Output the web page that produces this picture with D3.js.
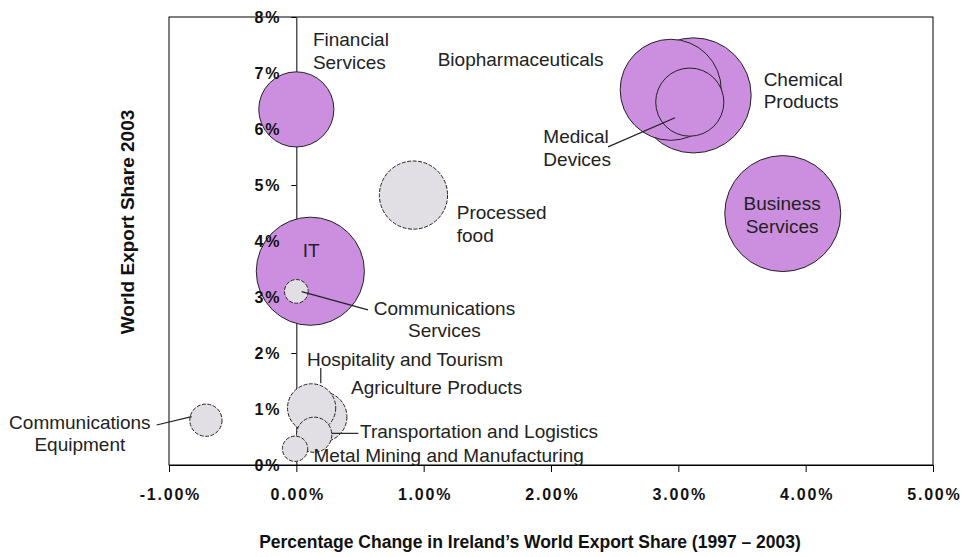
<!DOCTYPE html>
<html>
<head>
<meta charset="utf-8">
<script src="https://cdn.jsdelivr.net/npm/d3@7"></script>
<style>
  body { margin: 0; background: #fff; }
  svg { display: block; font-family: Arial, "Liberation Sans", sans-serif; }
</style>
</head>
<body>
<div id="chart"></div>
<script>
// Sectors, drawn in this order (back to front)
var sectors = ["Chemical Products", "Biopharmaceuticals", "Medical Devices", "Business Services",
               "Financial Services", "Processed food", "IT", "Communications Services",
               "Communications Equipment", "Agriculture Products", "Hospitality and Tourism",
               "Transportation and Logistics", "Metal Mining and Manufacturing"];
// % change in Ireland's world export share 1997-2003
var shareChange = [3.12, 2.94, 3.09, 3.82, 0.00, 0.92, 0.11, 0.00, -0.71, 0.20, 0.12, 0.14, -0.01];
// world export share 2003 (%)
var exportShare = [6.60, 6.70, 6.48, 4.49, 6.35, 4.82, 3.46, 3.10, 0.80, 0.86, 1.02, 0.54, 0.29];
// relative bubble size
var bubbleSize = [33.1, 25.5, 11.6, 33.6, 14.1, 11.6, 29.2, 1.4, 2.6, 6.3, 5.8, 3.1, 1.6];
// high-growth group (purple) or not (grey)
var highGrowth = [1, 1, 1, 1, 1, 0, 1, 0, 0, 0, 0, 0, 0];

var xTicks = [-1, 0, 1, 2, 3, 4, 5];
var yTicks = [0, 1, 2, 3, 4, 5, 6, 7, 8];

// label text, placed in data units
var labels = [
  {lines: ["Financial", "Services"], x: 0.13, y: 7.48, anchor: "start"},
  {lines: ["Biopharmaceuticals"], x: 1.11, y: 7.13, anchor: "start"},
  {lines: ["Medical", "Devices"], x: 1.94, y: 5.75, anchor: "start"},
  {lines: ["Chemical", "Products"], x: 3.67, y: 6.77, anchor: "start"},
  {lines: ["Business", "Services"], x: 3.815, y: 4.55, anchor: "middle"},
  {lines: ["Processed", "food"], x: 1.26, y: 4.39, anchor: "start"},
  {lines: ["IT"], x: 0.05, y: 3.71, anchor: "start"},
  {lines: ["Communications", "Services"], x: 1.163, y: 2.68, anchor: "middle"},
  {lines: ["Hospitality and Tourism"], x: 0.084, y: 1.77, anchor: "start"},
  {lines: ["Agriculture Products"], x: 0.43, y: 1.27, anchor: "start"},
  {lines: ["Transportation and Logistics"], x: 0.50, y: 0.48, anchor: "start"},
  {lines: ["Metal Mining and Manufacturing"], x: 0.134, y: 0.06, anchor: "start"},
  {lines: ["Communications", "Equipment"], x: -1.70, y: 0.645, anchor: "middle"}
];
// leader lines [x1, y1, x2, y2] in data units
var leaders = [
  [2.448, 5.68, 2.974, 6.20],
  [0.042, 3.095, 0.563, 2.77],
  [-1.097, 0.714, -0.822, 0.863],
  [0.192, 1.73, 0.192, 1.46],
  [0.278, 0.565, 0.487, 0.565]
];

var width = 962, height = 557;
var svg = d3.select("#chart").append("svg")
    .attr("width", width)
    .attr("height", height);

var x = d3.scaleLinear().domain([-1, 5]).range([169, 933]);
var y = d3.scaleLinear().domain([0, 8]).range([465, 17]);
var r = d3.scaleSqrt().domain([0, d3.max(bubbleSize)]).range([0, 58]);

var yAxisFn = d3.axisLeft(y).tickValues(yTicks).tickSize(5).tickSizeOuter(0).tickPadding(10)
                .tickFormat(function(d) { return d + "%"; });
var xAxisFn = d3.axisBottom(x).tickValues(xTicks).tickSize(7).tickSizeOuter(0).tickPadding(17)
                .tickFormat(function(d) { return d.toFixed(2) + "%"; });

// plot frame
svg.append("rect")
   .attr("x", x(-1)).attr("y", y(8))
   .attr("width", x(5) - x(-1)).attr("height", y(0) - y(8))
   .attr("fill", "none").attr("stroke", "#000");

// axis lines (behind bubbles)
var yLines = svg.append("g")
   .attr("transform", "translate(" + x(0) + ",0)")
   .call(yAxisFn);
var xLines = svg.append("g")
   .attr("transform", "translate(0," + y(0) + ")")
   .call(xAxisFn);
yLines.selectAll("text").remove();
xLines.selectAll("text").remove();
svg.selectAll(".domain, .tick line").attr("stroke", "#000");

// bubbles
var idx = d3.range(sectors.length);
svg.append("g").selectAll("circle")
   .data(idx)
   .enter().append("circle")
   .attr("cx", function(i) { return x(shareChange[i]); })
   .attr("cy", function(i) { return y(exportShare[i]); })
   .attr("r", function(i) { return r(bubbleSize[i]); })
   .attr("fill", function(i) { return highGrowth[i] ? "#cc8fe0" : "#e1dfe4"; })
   .attr("stroke", "#222")
   .attr("stroke-width", 1)
   .attr("stroke-dasharray", function(i) { return highGrowth[i] ? null : "4,1.5"; });

// tick labels on top of bubbles
var yText = svg.append("g")
   .attr("transform", "translate(" + x(0) + ",0)")
   .call(yAxisFn);
var xText = svg.append("g")
   .attr("transform", "translate(0," + y(0) + ")")
   .call(xAxisFn);
yText.select(".domain").remove();
xText.select(".domain").remove();
yText.selectAll(".tick line").remove();
xText.selectAll(".tick line").remove();

svg.selectAll(".tick text")
   .attr("font-family", "Arial, 'Liberation Sans', sans-serif")
   .attr("font-size", 16)
   .attr("font-weight", "bold")
   .attr("letter-spacing", 1.8)
   .attr("fill", "#111");
xText.selectAll(".tick text").attr("dx", 0.9);

// leader lines
svg.append("g").selectAll("line")
   .data(leaders)
   .enter().append("line")
   .attr("x1", function(d) { return x(d[0]); })
   .attr("y1", function(d) { return y(d[1]); })
   .attr("x2", function(d) { return x(d[2]); })
   .attr("y2", function(d) { return y(d[3]); })
   .attr("stroke", "#222")
   .attr("stroke-width", 1.2);

// sector labels
var lab = svg.append("g").selectAll("text")
   .data(labels)
   .enter().append("text")
   .attr("x", function(d) { return x(d.x); })
   .attr("y", function(d) { return y(d.y); })
   .attr("text-anchor", function(d) { return d.anchor; })
   .attr("font-size", 19)
   .attr("fill", "#222");
lab.selectAll("tspan")
   .data(function(d) { return d.lines.map(function(t) { return {t: t, x: x(d.x)}; }); })
   .enter().append("tspan")
   .attr("x", function(d) { return d.x; })
   .attr("dy", function(d, i) { return i === 0 ? 0 : 22.5; })
   .text(function(d) { return d.t; });

// axis titles
svg.append("text")
   .attr("x", 530).attr("y", 548)
   .attr("text-anchor", "middle")
   .attr("font-size", 17.5).attr("font-weight", "bold").attr("fill", "#111")
   .text("Percentage Change in Ireland\u2019s World Export Share (1997 \u2013 2003)");

svg.append("text")
   .attr("transform", "translate(134,222) rotate(-90)")
   .attr("text-anchor", "middle")
   .attr("font-size", 19).attr("font-weight", "bold").attr("fill", "#111")
   .text("World Export Share 2003");
</script>
</body>
</html>
